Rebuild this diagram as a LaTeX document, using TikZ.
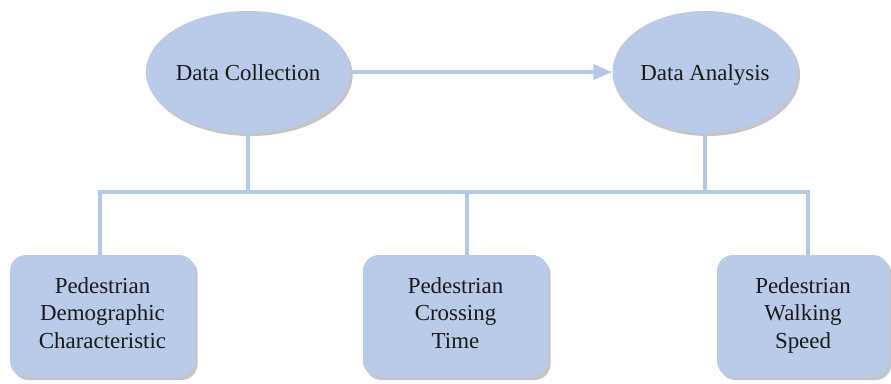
\documentclass[tikz,border=0pt]{standalone}
\usepackage{fontspec}
\setmainfont{Liberation Serif}
\usetikzlibrary{shapes.geometric,shadows,arrows.meta}
\definecolor{nodefill}{HTML}{B9CBE8}
\definecolor{linecol}{HTML}{B4C7E7}
\definecolor{txt}{HTML}{1A1A1A}
\begin{document}
\begin{tikzpicture}[x=1bp,y=-1bp,
  shade/.style={drop shadow={shadow xshift=2.5bp,shadow yshift=-3bp,fill=black!45,opacity=0.5}},
  ell/.style={ellipse,fill=nodefill,draw=none,inner sep=0pt,minimum width=185bp,minimum height=122bp,shade,
    font=\fontsize{23}{27}\selectfont,text=txt,text height=18bp,text depth=2bp},
  box/.style={rectangle,rounded corners=16bp,fill=nodefill,draw=none,inner sep=0pt,minimum width=185bp,minimum height=122bp,shade,
    align=center,font=\fontsize{23}{27.5}\selectfont,text=txt,
    execute at begin node={\rule{0pt}{30bp}},execute at end node={\rule[-6bp]{0pt}{6bp}}},
  conn/.style={draw=linecol,line width=3.2bp}]
\useasboundingbox (0,0) rectangle (891,383);
\fill[white] (0,0) rectangle (891,383);
\node[ell] (dc) at (248,72) {Data Collection};
\node[ell] (da) at (705,72) {Data Analysis};
\node[box] (b1) at (102.5,316) {Pedestrian\\Demographic\\Characteristic};
\node[box] (b2) at (455.5,316) {Pedestrian\\Crossing\\Time};
\node[box,minimum width=172bp] (b3) at (803,316) {Pedestrian\\Walking\\Speed};
\coordinate (t1) at (100,192);
\coordinate (t2) at (467,192);
\coordinate (t3) at (808,192);
\draw[conn,-{Triangle[length=19bp,width=15bp]}] (dc.east) -- (da.west);
\draw[conn] (dc.south) -- (dc.south |- t1);
\draw[conn] (da.south) -- (da.south |- t1);
\draw[conn,line cap=rect] (t1) -- (t3);
\draw[conn] (t1) -- (t1 |- b1.north);
\draw[conn] (t2) -- (t2 |- b2.north);
\draw[conn] (t3) -- (t3 |- b3.north);
\end{tikzpicture}
\end{document}
